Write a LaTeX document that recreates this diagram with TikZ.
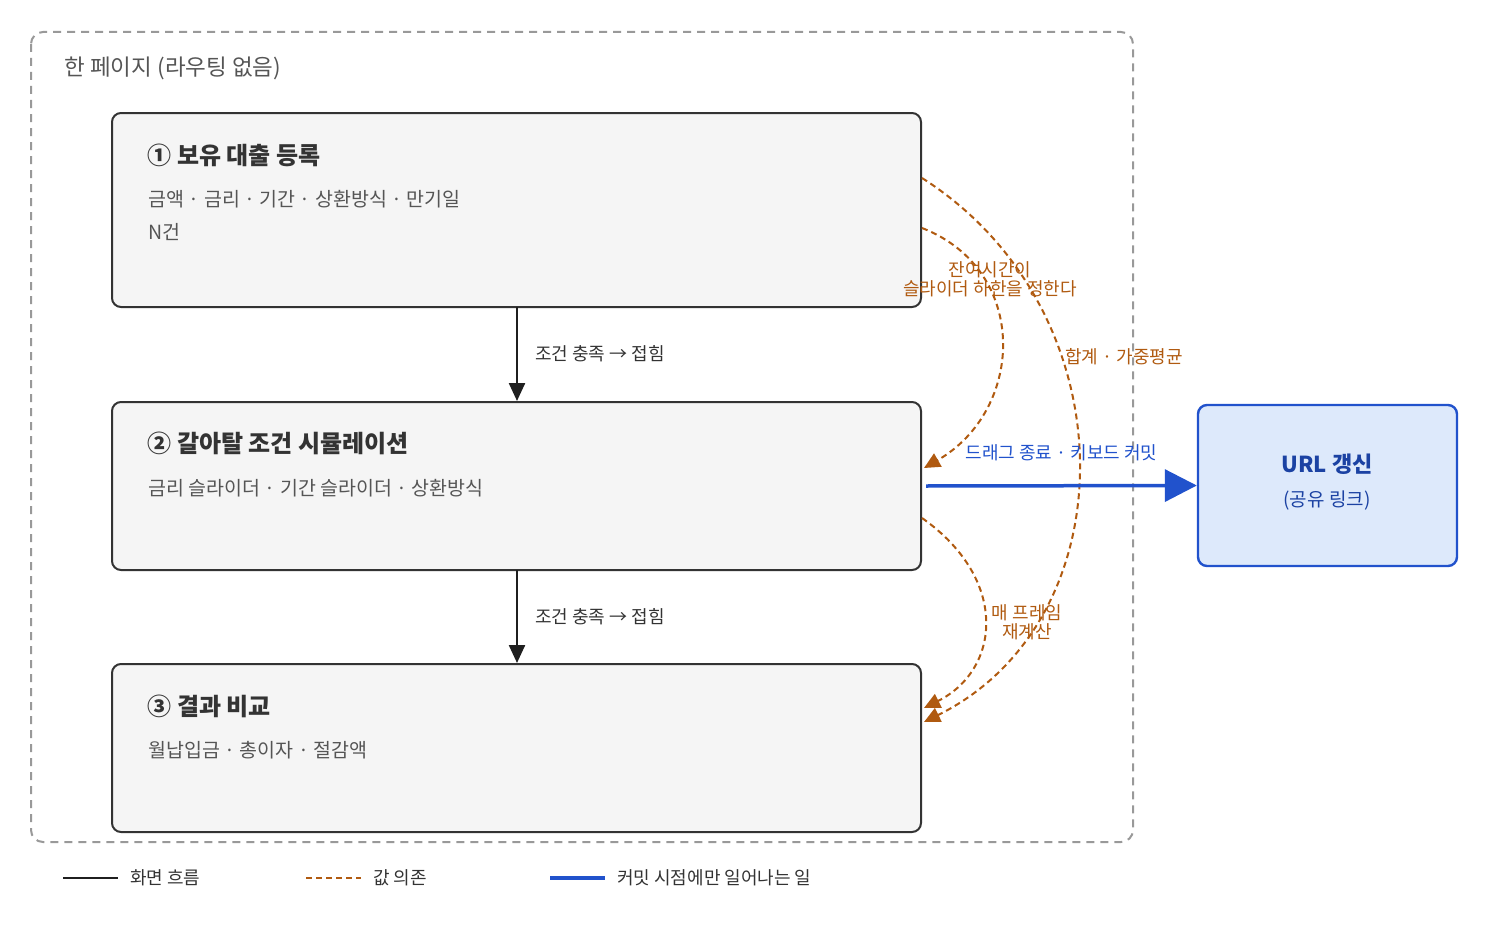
\documentclass[tikz,border=0pt]{standalone}
\usepackage{fontspec}
\setmainfont{Noto Sans CJK KR}
\usetikzlibrary{arrows.meta}
\definecolor{boxfill}{HTML}{F5F5F5}
\definecolor{boxline}{HTML}{333333}
\definecolor{subgray}{HTML}{555555}
\definecolor{dep}{HTML}{B05A10}
\definecolor{commit}{HTML}{2152CC}
\definecolor{urlfill}{HTML}{DDE9FB}

\begin{document}
\begin{tikzpicture}[x=1pt, y=-1pt,
    stage/.style={draw=boxline, line width=2pt, fill=boxfill, rounded corners=9pt},
    head/.style={anchor=west, font=\fontsize{24}{27}\selectfont\bfseries, text=boxline},
    sub/.style={anchor=west, font=\fontsize{19.5}{22}\selectfont, text=subgray},
    flow/.style={line width=2.4pt, draw=boxline!60!black, -{Triangle[length=18pt,width=16pt]}},
    depends/.style={dep, line width=2pt, dash pattern=on 6pt off 4pt, -{Triangle[length=16pt,width=15pt]}},
    lbl/.style={font=\fontsize{18}{21}\selectfont, inner sep=1pt},
    deplbl/.style={lbl, text=dep, align=center}]

\useasboundingbox (0,0) rectangle (1492,942);

% page frame
\draw[gray!80, line width=2pt, dash pattern=on 8pt off 6pt, rounded corners=12pt] (31,32) rectangle (1133,842);
\node[anchor=west, font=\fontsize{22.5}{25}\selectfont, text=subgray] (frame) at (61,68) {한 페이지 (라우팅 없음)};

% stages
\draw[stage] (112,113) rectangle (921,307);
\draw[stage] (112,402) rectangle (921,570);
\draw[stage] (112,664) rectangle (921,832);
\coordinate (s1n) at (517,307);
\coordinate (s2s) at (517,401);
\coordinate (s2n) at (517,570);
\coordinate (s3s) at (517,663);

\node[head] (h1) at (144,155) {① 보유 대출 등록};
\node[sub] (t1a) at (145,199) {금액 · 금리 · 기간 · 상환방식 · 만기일};
\node[sub] (t1b) at (145,232) {N건};
\node[head] (h2) at (144,443) {② 갈아탈 조건 시뮬레이션};
\node[sub] (t2a) at (145,488) {금리 슬라이더 · 기간 슬라이더 · 상환방식};
\node[head] (h3) at (144,706) {③ 결과 비교};
\node[sub] (t3a) at (145,750) {월납입금 · 총이자 · 절감액};

% url box
\node[draw=commit, line width=2.4pt, fill=urlfill, rounded corners=9pt,
      minimum width=259pt, minimum height=161pt] (url) at (1327.5,485.5) {};
\node[font=\fontsize{22}{25}\selectfont\bfseries, text=commit!80!black] (urlt) at (1327,464) {URL 갱신};
\node[font=\fontsize{19}{22}\selectfont, text=commit!80!black] (urls) at (1327,501) {(공유 링크)};

% screen flow
\draw[flow] (s1n) -- (s2s) node[midway, right=16pt, lbl, text=boxline] (f1) {조건 충족 → 접힘};
\draw[flow] (s2n) -- (s3s) node[midway, right=16pt, lbl, text=boxline] (f2) {조건 충족 → 접힘};

% value dependencies
\coordinate (d1a) at (922,228);
\coordinate (d1b) at (924,468);
\coordinate (d2a) at (922,178);
\coordinate (d2b) at (924,722);
\coordinate (d3a) at (922,518);
\coordinate (d3b) at (924,708);
\draw[depends] (d1a) .. controls (1030,270) and (1025,410) .. (d1b);
\draw[depends] (d2a) .. controls (1130,310) and (1130,620) .. (d2b);
\draw[depends] (d3a) .. controls (1010,580) and (1000,670) .. (d3b);
\node[deplbl] (l1) at (990,279) {잔여시간이\\[-2pt]슬라이더 하한을 정한다};
\node[deplbl] (l2) at (1124,357) {합계 · 가중평균};
\node[deplbl] (l3) at (1027,622) {매 프레임\\[-2pt]재계산};

% commit
\coordinate (c1) at (926,486);
\draw[commit, line width=3.5pt, -{Triangle[length=32pt,width=32pt]}] (c1) -- (url.west)
  node[pos=0.5, above=22pt, lbl, text=commit] (cl) {드래그 종료 · 키보드 커밋};

% legend
\coordinate (g1a) at (63,878); \coordinate (g1b) at (118,878);
\coordinate (g2a) at (306,878); \coordinate (g2b) at (361,878);
\coordinate (g3a) at (550,878); \coordinate (g3b) at (605,878);
\draw[boxline!60!black, line width=2.6pt] (g1a) -- (g1b);
\draw[dep, line width=2pt, dash pattern=on 6pt off 4pt] (g2a) -- (g2b);
\draw[commit, line width=3.5pt] (g3a) -- (g3b);
\node[lbl, anchor=west, text=boxline] (k1) at (129,878) {화면 흐름};
\node[lbl, anchor=west, text=boxline] (k2) at (372,878) {값 의존};
\node[lbl, anchor=west, text=boxline] (k3) at (616,878) {커밋 시점에만 일어나는 일};
\end{tikzpicture}
\end{document}
